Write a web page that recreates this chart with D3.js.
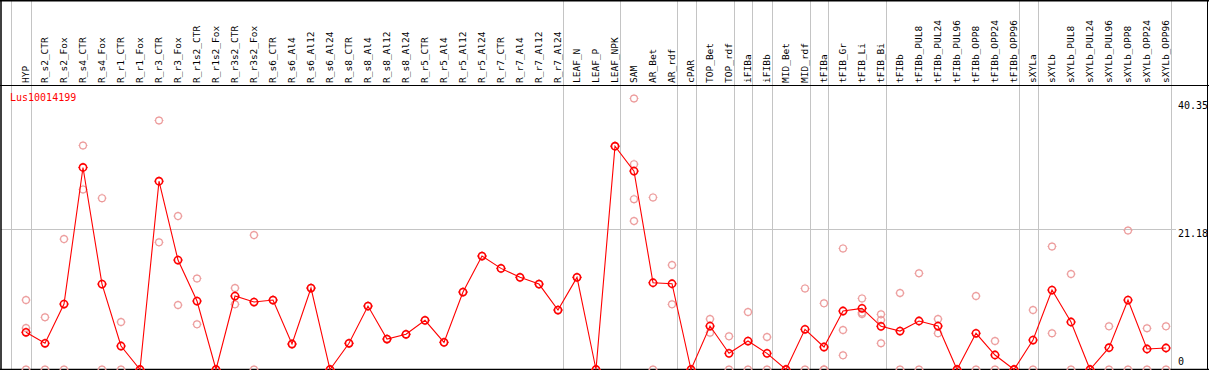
<!DOCTYPE html>
<html>
<head>
<meta charset="utf-8">
<script src="https://cdn.jsdelivr.net/npm/d3@7"></script>
<style>
  html, body { margin: 0; padding: 0; background: #fff; }
  svg { display: block; }
  text { font-family: "DejaVu Sans Mono", monospace; }
</style>
</head>
<body>
<svg id="chart" width="1209" height="370"></svg>
<script>
const title = "Lus10014199";
const categories = [
  "HYP","R_s2_CTR","R_s2_Fox","R_s4_CTR","R_s4_Fox","R_r1_CTR","R_r1_Fox","R_r3_CTR","R_r3_Fox",
  "R_r1s2_CTR","R_r1s2_Fox","R_r3s2_CTR","R_r3s2_Fox","R_s6_CTR","R_s6_Al4","R_s6_Al12","R_s6_Al24",
  "R_s8_CTR","R_s8_Al4","R_s8_Al12","R_s8_Al24","R_r5_CTR","R_r5_Al4","R_r5_Al12","R_r5_Al24",
  "R_r7_CTR","R_r7_Al4","R_r7_Al12","R_r7_Al24","LEAF_N","LEAF_P","LEAF_NPK","SAM","AR_Bet","AR_rdf",
  "cPAR","TOP_Bet","TOP_rdf","iFIBa","iFIBb","MID_Bet","MID_rdf","tFIBa","tFIB_Gr","tFIB_Li","tFIB_Bi",
  "tFIBb","tFIBb_PUL8","tFIBb_PUL24","tFIBb_PUL96","tFIBb_OPP8","tFIBb_OPP24","tFIBb_OPP96",
  "sXYLa","sXYLb","sXYLb_PUL8","sXYLb_PUL24","sXYLb_PUL96","sXYLb_OPP8","sXYLb_OPP24","sXYLb_OPP96"
];
const means = [
  5.59, 3.94, 9.84, 30.37, 12.84, 3.53, 0, 28.3, 16.45,
  10.29, 0, 11.04, 10.14, 10.44, 3.83, 12.24, 0,
  3.94, 9.54, 4.58, 5.29, 7.39, 4.08, 11.64, 17.05,
  15.2, 13.85, 12.84, 8.94, 13.85, 0, 33.57, 29.82, 13.04, 12.89,
  0, 6.53, 2.43, 4.28, 2.43, 0, 6.04, 3.38, 8.79, 9.19, 6.49,
  5.78, 7.29, 6.53, 0, 5.44, 2.18, 0,
  4.43, 11.94, 7.14, 0, 3.28, 10.44, 3.08, 3.23
];
const replicates = [
  [10.44, 6.23, 0], [7.84, 0], [19.6, 0], [33.68, 27.07], [25.76, 0], [7.14, 0], [0], [37.43, 19.11], [23.06, 9.69],
  [13.69, 6.79], [0], [12.24, 9.79], [20.2, 0], [10.44], [3.83], [12.24], [0],
  [3.94], [9.54], [4.58], [5.29], [7.39], [4.08], [11.64], [17.05],
  [15.2], [13.85], [12.84], [8.94], [13.85], [0], [33.57], [40.74, 30.87, 25.61, 22.31], [25.87, 0], [15.7, 9.79],
  [0], [7.59, 5.53], [4.98, 0], [8.64, 0], [4.88, 0], [0], [12.19, 0], [9.94, 0, 0], [18.2, 5.93, 2.13], [10.69, 8.34, 8.54], [8.29, 7.44, 3.94],
  [11.49, 0], [14.45, 0], [7.59, 5.44], [0], [11.04, 0], [4.28, 0], [0],
  [8.94, 0], [18.5, 5.44], [14.35, 0], [0], [6.49, 0], [20.9, 0], [6.19, 0], [6.49, 0]
];
const yTicks = [0, 21.18, 40.35];
const groupBreaks = [-1, 0, 28, 31, 34, 35, 37, 38, 39, 41, 42, 45, 52, 53, 60];

const W = 1209, H = 370;
const svg = d3.select("#chart");

const x = d3.scaleLinear().domain([0, categories.length - 1]).range([26, 1166]);
const y = d3.scaleLinear().domain([0, 21.18]).range([369.5, 228.6]);

const grey = "#c4c4c4";

svg.selectAll("line.hgrid").data(yTicks.filter(v => v > 0 && v < 40)).enter()
  .append("line").attr("class", "hgrid")
  .attr("x1", 1).attr("x2", 1176)
  .attr("y1", d => Math.round(y(d)) + 0.5).attr("y2", d => Math.round(y(d)) + 0.5)
  .attr("stroke", grey).attr("stroke-width", 1);

svg.selectAll("line.vgrid").data(groupBreaks).enter()
  .append("line").attr("class", "vgrid")
  .attr("x1", d => Math.round(x(d) + 4.5) + 0.5).attr("x2", d => Math.round(x(d) + 4.5) + 0.5)
  .attr("y1", 0).attr("y2", H)
  .attr("stroke", grey).attr("stroke-width", 1);

svg.append("line").attr("x1", 0).attr("x2", W).attr("y1", 0.5).attr("y2", 0.5).attr("stroke", "#000").attr("stroke-width", 2);
svg.append("line").attr("x1", 0).attr("x2", W).attr("y1", 85.5).attr("y2", 85.5).attr("stroke", "#000").attr("stroke-width", 1);
svg.append("line").attr("x1", 1).attr("x2", 1).attr("y1", 0).attr("y2", H).attr("stroke", "#000").attr("stroke-width", 1.5);
svg.append("line").attr("x1", 1207.5).attr("x2", 1207.5).attr("y1", 0).attr("y2", H).attr("stroke", "#000").attr("stroke-width", 1);
svg.append("line").attr("x1", 0).attr("x2", W).attr("y1", 369.5).attr("y2", 369.5).attr("stroke", "#000").attr("stroke-width", 1.5);

svg.selectAll("text.cat").data(categories).enter()
  .append("text").attr("class", "cat")
  .attr("transform", (d, i) => `translate(${x(i) + 2.5},83) rotate(-90)`)
  .attr("font-size", "9.5px").attr("fill", "#000")
  .text(d => d);

svg.selectAll("text.ytick").data(yTicks).enter()
  .append("text").attr("class", "ytick")
  .attr("x", 1178)
  .attr("y", d => d === 0 ? y(d) - 4.3 : y(d) + 8.3)
  .attr("font-size", "10px").attr("fill", "#000")
  .text(d => d === 0 ? "0" : d3.format(".2f")(d));

svg.append("text").attr("x", 10).attr("y", 101)
  .attr("font-size", "10px").attr("fill", "#ff0000").text(title);

function marker(g, r, color, sw) {
  g.append("circle").attr("r", r).attr("fill", "none").attr("stroke", color).attr("stroke-width", sw);
  [[0, -1], [0, 1], [-1, 0], [1, 0]].forEach(([dx, dy]) => {
    g.append("line")
      .attr("x1", dx * (r + 0.4)).attr("y1", dy * (r + 0.4))
      .attr("x2", dx * (r + 1.2)).attr("y2", dy * (r + 1.2))
      .attr("stroke", color).attr("stroke-width", 0.8);
  });
}

const repData = [];
replicates.forEach((arr, i) => arr.forEach(v => repData.push({ i, v })));
svg.selectAll("g.rep").data(repData).enter()
  .append("g").attr("class", "rep")
  .attr("transform", d => `translate(${x(d.i)},${y(d.v)})`)
  .each(function () { marker(d3.select(this), 3.4, "#ec9a9a", 1.2); });

const line = d3.line().x((d, i) => x(i)).y(d => y(d));
svg.append("path").datum(means).attr("d", line)
  .attr("fill", "none").attr("stroke", "#ff0000").attr("stroke-width", 1.1);

svg.selectAll("g.mean").data(means).enter()
  .append("g").attr("class", "mean")
  .attr("transform", (d, i) => `translate(${x(i)},${y(d)})`)
  .each(function () { marker(d3.select(this), 3.6, "#ff0000", 1.6); });
</script>
</body>
</html>
